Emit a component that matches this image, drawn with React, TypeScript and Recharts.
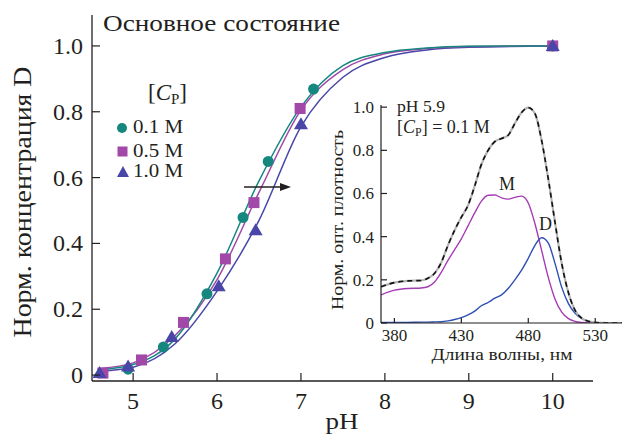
import React from "react";
import { ComposedChart, LineChart, Line, Scatter, XAxis, YAxis } from "recharts";

// main chart: measured points
const ptsTealPh = [4.94, 5.36, 5.88, 6.31, 6.61, 7.15, 10.0];
const ptsTealV = [0.018, 0.085, 0.247, 0.479, 0.649, 0.869, 1.0];
const ptsMagPh = [4.64, 5.1, 5.6, 6.1, 6.44, 6.99, 10.0];
const ptsMagV = [0.006, 0.046, 0.16, 0.353, 0.524, 0.81, 1.0];
const ptsBluePh = [4.6, 4.94, 5.46, 6.02, 6.46, 7.0, 10.0];
const ptsBlueV = [0.006, 0.026, 0.116, 0.27, 0.44, 0.762, 1.0];

// main chart: fitted curves
const fitPh = [4.6, 5.0, 5.5, 6.0, 6.5, 7.0, 7.5, 8.0, 8.5, 9.0, 10.0];
const fitTeal = [0.016, 0.032, 0.11, 0.31, 0.59, 0.815, 0.94, 0.98, 0.994, 0.999, 1.0];
const fitMag = [0.02, 0.037, 0.12, 0.29, 0.555, 0.805, 0.928, 0.976, 0.992, 0.998, 1.0];
const fitBlue = [0.012, 0.024, 0.095, 0.255, 0.47, 0.755, 0.905, 0.965, 0.988, 0.996, 1.0];

const phTicks = [5, 6, 7, 8, 9, 10];
const concTicks = [0, 0.2, 0.4, 0.6, 0.8, 1.0];

// inset: spectra at pH 5.9
const wl = [370, 380, 390, 400, 405, 410, 415, 420, 425, 430, 435, 440, 445, 450, 455, 460, 465, 470, 475, 480, 485, 490, 495, 500, 505, 510, 515, 520, 525, 530, 540, 550];
const specTotal = [0.168, 0.187, 0.195, 0.197, 0.207, 0.23, 0.28, 0.36, 0.43, 0.49, 0.545, 0.635, 0.735, 0.8, 0.84, 0.855, 0.87, 0.925, 0.975, 0.998, 0.97, 0.845, 0.665, 0.465, 0.275, 0.14, 0.058, 0.022, 0.008, 0.002, 0, 0];
const specM = [0.13, 0.152, 0.16, 0.162, 0.168, 0.19, 0.235, 0.29, 0.34, 0.39, 0.45, 0.51, 0.565, 0.592, 0.593, 0.58, 0.574, 0.582, 0.588, 0.556, 0.46, 0.335, 0.21, 0.11, 0.05, 0.02, 0.007, 0.002, 0, 0, 0, 0];
const specD = [0.003, 0.003, 0.003, 0.004, 0.004, 0.005, 0.006, 0.01, 0.016, 0.025, 0.038, 0.055, 0.08, 0.095, 0.115, 0.13, 0.16, 0.2, 0.245, 0.3, 0.36, 0.395, 0.37, 0.275, 0.165, 0.09, 0.045, 0.02, 0.007, 0.001, 0, 0];

const wlTicks = [380, 430, 480, 530];
const densTicks = [0, 0.2, 0.4, 0.6, 0.8, 1.0];

const TEAL = "#16877f";
const MAG = "#a148a9";
const BLUE = "#4946a8";
const INK = "#231f20";
const FONT = "'Liberation Serif', 'Times New Roman', serif";
const serif = { fontFamily: FONT };

const toPts = (xs: number[], ys: number[]) => xs.map((ph, i) => ({ ph, v: ys[i] }));
const spectra = wl.map((w, i) => ({ w, total: specTotal[i], m: specM[i], d: specD[i] }));

const fmt = (v: number) => (v === 0 ? "0" : v.toFixed(1));

function makeXTick(len: number, dy: number, size: number) {
  return (p: any) => (
    <g>
      <line x1={p.x} x2={p.x} y1={p.y} y2={p.y - len} stroke={INK} strokeWidth={1.2} />
      <text x={p.x} y={p.y + dy} textAnchor="middle" fontSize={size} style={serif} fill={INK}>
        {p.payload.value}
      </text>
    </g>
  );
}

function makeYTick(len: number, gap: number, dy: number, size: number) {
  return (p: any) => (
    <g>
      <line x1={p.x} x2={p.x + len} y1={p.y} y2={p.y} stroke={INK} strokeWidth={1.2} />
      <text x={p.x - gap} y={p.y + dy} textAnchor="end" fontSize={size} style={serif} fill={INK}>
        {fmt(p.payload.value)}
      </text>
    </g>
  );
}

const circleShape = (p: any) => <circle cx={p.cx} cy={p.cy} r={5.5} fill={TEAL} />;
const squareShape = (p: any) => <rect x={p.cx - 5.5} y={p.cy - 5.5} width={11} height={11} fill={MAG} />;
const triShape = (p: any) => (
  <polygon points={`${p.cx},${p.cy - 7} ${p.cx - 7},${p.cy + 5} ${p.cx + 7},${p.cy + 5}`} fill={BLUE} />
);

export default function App() {
  return (
    <div style={{ position: "absolute", left: 0, top: 0, width: 623, height: 436, background: "#fff" }}>
      <div style={{ position: "absolute", left: 0, top: 0 }}>
        <ComposedChart width={623} height={436} margin={{ top: 15, right: 30, bottom: 0, left: 32 }}>
          <XAxis
            type="number"
            dataKey="ph"
            domain={[4.51, 10.48]}
            ticks={phTicks}
            allowDataOverflow
            height={55}
            tickSize={0}
            tickMargin={0}
            tickLine={false}
            axisLine={{ stroke: INK, strokeWidth: 1.3 }}
            tick={makeXTick(8, 28, 24)}
          />
          <YAxis
            type="number"
            dataKey="v"
            domain={[-0.018, 1.094]}
            ticks={concTicks}
            allowDataOverflow
            width={60}
            tickSize={0}
            tickMargin={0}
            tickLine={false}
            axisLine={{ stroke: INK, strokeWidth: 1.3 }}
            tick={makeYTick(8, 9, 8, 24)}
          />
          <Line data={toPts(fitPh, fitBlue)} dataKey="v" type="monotone" stroke={BLUE} strokeWidth={1.5} dot={false} isAnimationActive={false} />
          <Line data={toPts(fitPh, fitMag)} dataKey="v" type="monotone" stroke={MAG} strokeWidth={1.5} dot={false} isAnimationActive={false} />
          <Line data={toPts(fitPh, fitTeal)} dataKey="v" type="monotone" stroke={TEAL} strokeWidth={1.5} dot={false} isAnimationActive={false} />
          <Scatter data={toPts(ptsTealPh, ptsTealV)} dataKey="v" shape={circleShape} isAnimationActive={false} />
          <Scatter data={toPts(ptsMagPh, ptsMagV)} dataKey="v" shape={squareShape} isAnimationActive={false} />
          <Scatter data={toPts(ptsBluePh, ptsBlueV)} dataKey="v" shape={triShape} isAnimationActive={false} />
        </ComposedChart>
      </div>

      {/* inset spectra */}
      <div style={{ position: "absolute", left: 300, top: 80 }}>
        <LineChart width={323} height={300} data={spectra} margin={{ top: 25, right: 1, bottom: 0, left: 0 }}>
          <XAxis
            type="number"
            dataKey="w"
            domain={[370, 550]}
            ticks={wlTicks}
            allowDataOverflow
            height={57}
            tickSize={0}
            tickMargin={0}
            tickLine={false}
            axisLine={{ stroke: INK, strokeWidth: 1.2 }}
            tick={makeXTick(5, 18, 17)}
          />
          <YAxis
            type="number"
            domain={[0, 1.01]}
            ticks={densTicks}
            allowDataOverflow
            width={81}
            tickSize={0}
            tickMargin={0}
            tickLine={false}
            axisLine={{ stroke: INK, strokeWidth: 1.2 }}
            tick={makeYTick(6, 7, 6, 17)}
          />
          <Line dataKey="m" type="monotone" stroke="#a63cb5" strokeWidth={1.4} dot={false} isAnimationActive={false} />
          <Line dataKey="d" type="monotone" stroke="#2e4fb3" strokeWidth={1.4} dot={false} isAnimationActive={false} />
          <Line dataKey="total" type="monotone" stroke="#b4b4b4" strokeWidth={2.2} dot={false} isAnimationActive={false} />
          <Line dataKey="total" type="monotone" stroke="#111" strokeWidth={1.6} strokeDasharray="5 4" dot={false} isAnimationActive={false} />
        </LineChart>
      </div>

      {/* labels, legend and arrow */}
      <svg width={623} height={436} style={{ position: "absolute", left: 0, top: 0, pointerEvents: "none", fontFamily: FONT }} fill={INK}>
        <text x={103} y={31} fontSize={23} textLength={237} lengthAdjust="spacingAndGlyphs">Основное состояние</text>
        <text x={0} y={0} fontSize={25} textAnchor="middle" transform="translate(31,202) rotate(-90)" textLength={271} lengthAdjust="spacingAndGlyphs">
          Норм. концентрация D
        </text>
        <text x={342} y={429} fontSize={24} textAnchor="middle" textLength={33} lengthAdjust="spacingAndGlyphs">pH</text>

        <text x={148} y={100} fontSize={23}>
          [<tspan fontStyle="italic">C</tspan>
          <tspan fontSize={15} dy={4}>P</tspan>
          <tspan dy={-4}>]</tspan>
        </text>
        <circle cx={122} cy={128} r={5} fill={TEAL} />
        <text x={133} y={133} fontSize={18} textLength={50} lengthAdjust="spacingAndGlyphs">0.1 M</text>
        <rect x={117.5} y={146.5} width={10} height={10} fill={MAG} />
        <text x={133} y={157} fontSize={18} textLength={50} lengthAdjust="spacingAndGlyphs">0.5 M</text>
        <polygon points="123,166 117,177 129,177" fill={BLUE} />
        <text x={133} y={177} fontSize={18} textLength={50} lengthAdjust="spacingAndGlyphs">1.0 M</text>

        <line x1={244} y1={187} x2={282} y2={187} stroke={INK} strokeWidth={1.3} />
        <polygon points="291,187 280,183 280,191" fill={INK} />

        <text x={397} y={112} fontSize={17} textLength={48} lengthAdjust="spacingAndGlyphs">pH 5.9</text>
        <text x={397} y={133} fontSize={18}>
          [<tspan fontStyle="italic">C</tspan>
          <tspan fontSize={12} dy={3}>P</tspan>
          <tspan dy={-3}>] = 0.1 M</tspan>
        </text>
        <text x={499} y={190} fontSize={18}>M</text>
        <text x={539} y={230} fontSize={18}>D</text>
        <text x={0} y={0} fontSize={16} textAnchor="middle" transform="translate(343,220) rotate(-90)" textLength={180} lengthAdjust="spacingAndGlyphs">
          Норм. опт. плотность
        </text>
        <text x={502} y={360} fontSize={17} textAnchor="middle" textLength={141} lengthAdjust="spacingAndGlyphs">Длина волны, нм</text>
      </svg>
    </div>
  );
}
